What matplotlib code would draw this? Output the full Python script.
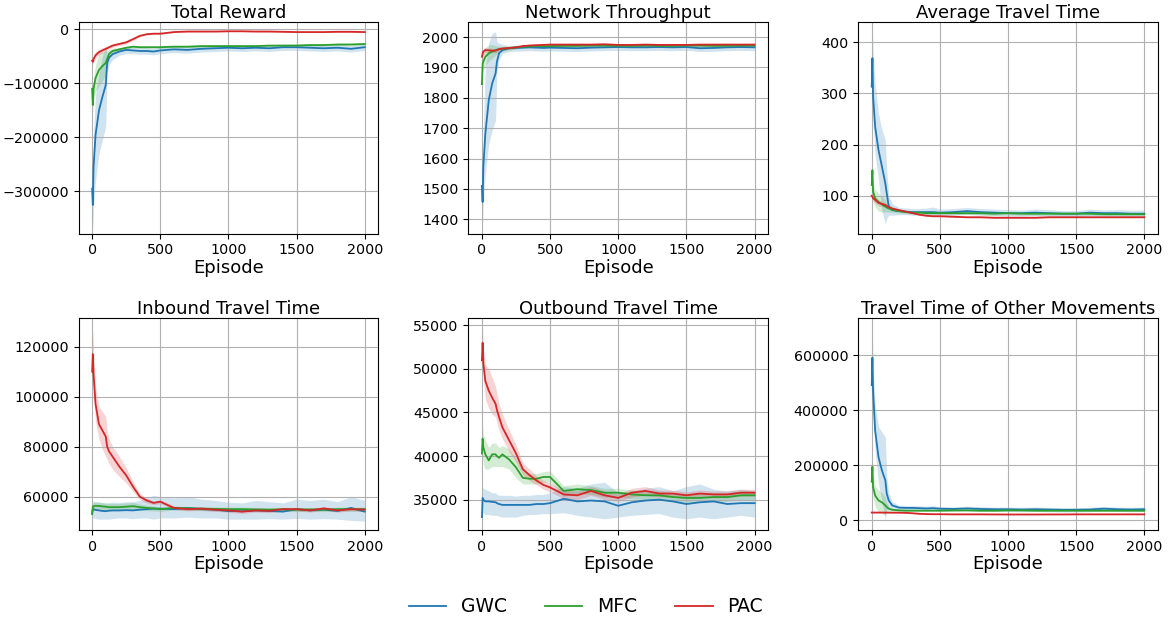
import numpy as np
import matplotlib.pyplot as plt

# episodios amostrados (eixo x de todos os paineis)
ep = [0, 5, 10, 25, 50, 75, 100, 110, 125, 150, 200, 250, 300, 350, 400, 450,
      500, 600, 700, 800, 900, 1000, 1100, 1200, 1300, 1400, 1500, 1600, 1700,
      1800, 1900, 2000]

metodos = ["GWC", "MFC", "PAC"]
cores = ["tab:blue", "tab:green", "tab:red"]

titulos = ["Total Reward", "Network Throughput", "Average Travel Time",
           "Inbound Travel Time", "Outbound Travel Time",
           "Travel Time of Other Movements"]

# ---------------- Total Reward ----------------
rew_gwc = [-295000, -325000, -255000, -195000, -150000, -125000, -103000, -62000, -52000, -46000, -41000, -38000, -39000, -40000, -40000, -41000, -39000, -37000, -38000, -36000, -35000, -34000, -35000, -34000, -35000, -33000, -33000, -34000, -35000, -34000, -36000, -33000]
rew_gwc_lo = [-340000, -370000, -330000, -280000, -230000, -205000, -180000, -80000, -65000, -56000, -48000, -45000, -45000, -46000, -46000, -47000, -45000, -43000, -44000, -42000, -41000, -40000, -41000, -40000, -41000, -39000, -39000, -40000, -41000, -40000, -42000, -39000]
rew_gwc_hi = [-270000, -280000, -190000, -120000, -80000, -50000, -30000, -45000, -40000, -37000, -34000, -32000, -33000, -34000, -34000, -35000, -33000, -31000, -32000, -30000, -29000, -28000, -29000, -28000, -29000, -27000, -27000, -28000, -29000, -28000, -30000, -27000]
rew_mfc = [-110000, -140000, -110000, -90000, -75000, -68000, -62000, -55000, -45000, -40000, -37000, -34000, -32000, -33000, -33000, -33000, -33000, -32000, -32000, -31000, -31000, -31000, -31000, -31000, -30000, -30000, -30000, -29000, -29000, -28000, -28000, -27000]
rew_mfc_lo = [-130000, -155000, -130000, -115000, -105000, -95000, -85000, -70000, -53000, -45000, -40000, -36000, -34000, -35000, -35000, -35000, -35000, -34000, -34000, -33000, -33000, -33000, -33000, -33000, -32000, -32000, -32000, -31000, -31000, -30000, -30000, -29000]
rew_mfc_hi = [-95000, -120000, -90000, -65000, -45000, -42000, -40000, -40000, -37000, -35000, -34000, -32000, -30000, -31000, -31000, -31000, -31000, -30000, -30000, -29000, -29000, -29000, -29000, -29000, -28000, -28000, -28000, -27000, -27000, -26000, -26000, -25000]
rew_pac = [-58000, -60000, -55000, -48000, -42000, -39000, -36000, -35000, -33000, -30000, -27000, -24000, -18000, -12000, -9000, -8000, -8000, -5000, -4000, -4000, -4000, -3500, -3500, -4000, -4000, -4500, -5000, -5000, -5000, -4500, -4500, -5000]
rew_pac_lo = [-63000, -65000, -61000, -54000, -47000, -44000, -40000, -39000, -36000, -33000, -30000, -27000, -20500, -14000, -10500, -9500, -9500, -6000, -5000, -5000, -5000, -4500, -4500, -5000, -5000, -5500, -6000, -6000, -6000, -5500, -5500, -6000]
rew_pac_hi = [-53000, -55000, -49000, -42000, -37000, -34000, -32000, -31000, -30000, -27000, -24000, -21000, -15500, -10000, -7500, -6500, -6500, -4000, -3000, -3000, -3000, -2500, -2500, -3000, -3000, -3500, -4000, -4000, -4000, -3500, -3500, -4000]

# ---------------- Network Throughput ----------------
thr_gwc = [1510, 1457, 1572, 1682, 1792, 1847, 1880, 1919, 1946, 1957, 1963, 1964, 1965, 1966, 1965, 1964, 1965, 1964, 1963, 1965, 1966, 1967, 1966, 1966, 1967, 1966, 1967, 1963, 1964, 1966, 1967, 1966]
thr_gwc_lo = [1440, 1380, 1450, 1550, 1650, 1693, 1726, 1880, 1925, 1945, 1952, 1953, 1954, 1955, 1954, 1953, 1954, 1953, 1952, 1954, 1955, 1956, 1955, 1955, 1956, 1955, 1956, 1952, 1953, 1955, 1956, 1955]
thr_gwc_hi = [1530, 1510, 1700, 1900, 1980, 2012, 2017, 1985, 1980, 1975, 1972, 1973, 1974, 1975, 1974, 1973, 1974, 1973, 1972, 1974, 1975, 1976, 1975, 1975, 1976, 1975, 1976, 1972, 1973, 1975, 1976, 1975]
thr_mfc = [1845, 1910, 1919, 1935, 1946, 1952, 1957, 1958, 1960, 1961, 1963, 1966, 1968, 1969, 1970, 1970, 1970, 1971, 1971, 1972, 1972, 1971, 1971, 1972, 1971, 1971, 1972, 1972, 1971, 1971, 1972, 1972]
thr_mfc_lo = [1815, 1880, 1890, 1905, 1920, 1930, 1940, 1945, 1950, 1953, 1957, 1961, 1963, 1964, 1965, 1965, 1965, 1966, 1966, 1967, 1967, 1966, 1966, 1967, 1966, 1966, 1967, 1967, 1966, 1966, 1967, 1967]
thr_mfc_hi = [1880, 1940, 1950, 1965, 1975, 1975, 1972, 1970, 1970, 1969, 1969, 1971, 1973, 1974, 1975, 1975, 1975, 1976, 1976, 1977, 1977, 1976, 1976, 1977, 1976, 1976, 1977, 1977, 1976, 1976, 1977, 1977]
thr_pac = [1935, 1945, 1952, 1957, 1956, 1955, 1955, 1957, 1960, 1962, 1964, 1966, 1970, 1972, 1973, 1974, 1975, 1975, 1975, 1975, 1976, 1974, 1974, 1975, 1974, 1974, 1974, 1975, 1975, 1975, 1975, 1975]
thr_pac_lo = [1925, 1935, 1942, 1948, 1948, 1948, 1948, 1950, 1954, 1956, 1959, 1961, 1966, 1968, 1969, 1970, 1971, 1971, 1971, 1971, 1972, 1970, 1970, 1971, 1970, 1970, 1970, 1971, 1971, 1971, 1971, 1971]
thr_pac_hi = [1945, 1955, 1962, 1966, 1964, 1962, 1962, 1964, 1966, 1968, 1969, 1971, 1974, 1976, 1977, 1978, 1979, 1979, 1979, 1979, 1980, 1978, 1978, 1979, 1978, 1978, 1978, 1979, 1979, 1979, 1979, 1979]

# ---------------- Average Travel Time ----------------
att_gwc = [313, 369, 294, 235, 189, 157, 124, 105, 79, 72, 70, 69, 68, 68, 68, 68, 67, 68, 70, 68, 67, 66, 66, 67, 66, 65, 65, 67, 66, 66, 65, 65]
att_gwc_lo = [300, 320, 240, 180, 130, 70, 45, 55, 62, 62, 63, 63, 62, 62, 62, 62, 61, 62, 64, 62, 61, 60, 60, 61, 60, 59, 59, 61, 60, 60, 59, 59]
att_gwc_hi = [330, 430, 380, 320, 260, 230, 208, 150, 100, 85, 77, 76, 75, 75, 76, 78, 74, 75, 77, 75, 74, 73, 72, 74, 73, 71, 71, 74, 72, 73, 72, 72]
att_mfc = [121, 150, 108, 95, 88, 83, 79, 77, 75, 73, 70, 68, 67, 67, 66, 66, 66, 66, 66, 66, 65, 66, 65, 65, 65, 65, 65, 65, 64, 64, 64, 64]
att_mfc_lo = [100, 120, 90, 78, 70, 68, 68, 68, 68, 68, 66, 65, 64, 64, 63, 63, 63, 63, 63, 63, 62, 63, 62, 62, 62, 62, 62, 62, 61, 61, 61, 61]
att_mfc_hi = [145, 160, 125, 112, 105, 100, 92, 88, 84, 79, 74, 71, 70, 70, 69, 69, 69, 69, 69, 69, 68, 69, 68, 68, 68, 68, 68, 68, 67, 67, 67, 67]
att_pac = [100, 98, 95, 92, 86, 84, 82, 80, 78, 75, 72, 69, 66, 63, 61, 60, 60, 59, 58, 58, 57, 57, 57, 57, 58, 58, 58, 58, 58, 58, 58, 58]
att_pac_lo = [95, 93, 89, 86, 80, 79, 78, 77, 75, 73, 70, 68, 65, 62, 60, 59, 59, 58, 57, 57, 56, 56, 56, 56, 57, 57, 57, 57, 57, 57, 57, 57]
att_pac_hi = [105, 103, 101, 98, 92, 89, 86, 83, 81, 77, 74, 70, 67, 64, 62, 61, 61, 60, 59, 59, 58, 58, 58, 58, 59, 59, 59, 59, 59, 59, 59, 59]

# ---------------- Inbound Travel Time ----------------
inb_gwc = [53500, 55000, 55000, 54700, 54500, 54300, 54200, 54300, 54400, 54500, 54500, 54600, 54500, 54800, 55000, 55200, 55200, 55000, 55500, 55000, 54800, 54200, 54200, 54500, 54300, 54000, 55000, 54500, 54800, 54300, 55500, 54000]
inb_gwc_lo = [51000, 51500, 51500, 51200, 51000, 51000, 51000, 51000, 51000, 51200, 51500, 51500, 51200, 51500, 51500, 51000, 51500, 51500, 51800, 51500, 51500, 51000, 51000, 51000, 51200, 51000, 51300, 51000, 51200, 51000, 50500, 50200]
inb_gwc_hi = [56000, 58000, 58200, 58000, 57800, 57600, 57500, 57500, 57700, 57800, 57700, 58000, 58000, 58500, 59500, 60500, 60000, 59500, 60000, 59000, 58500, 57800, 57500, 58500, 58000, 57500, 59000, 58500, 59000, 58000, 60000, 58500]
inb_mfc = [53000, 56000, 56200, 56300, 56300, 56100, 56000, 55900, 55800, 55800, 55800, 56000, 56200, 55800, 55500, 55300, 55000, 55500, 55300, 55200, 55100, 55000, 55000, 54900, 54800, 54900, 54800, 54900, 54800, 55000, 55000, 55000]
inb_mfc_lo = [51500, 54500, 54700, 54800, 54800, 54600, 54500, 54400, 54300, 54300, 54300, 54500, 54700, 54600, 54400, 54300, 54100, 54700, 54500, 54400, 54300, 54200, 54200, 54100, 54000, 54100, 54000, 54100, 54000, 54200, 54200, 54200]
inb_mfc_hi = [54500, 57500, 57700, 57800, 57800, 57600, 57500, 57400, 57300, 57300, 57300, 57500, 57700, 57000, 56600, 56300, 55900, 56300, 56100, 56000, 55900, 55800, 55800, 55700, 55600, 55700, 55600, 55700, 55600, 55800, 55800, 55800]
inb_pac = [110000, 117000, 109000, 97000, 89000, 86500, 84000, 80000, 78000, 76000, 72000, 68500, 64000, 60000, 58500, 57500, 58000, 55500, 55000, 55200, 54800, 54500, 54000, 54500, 54300, 55000, 55000, 54500, 55300, 54500, 55000, 54800]
inb_pac_lo = [106000, 110000, 102000, 90000, 83000, 79000, 76000, 75000, 73000, 71000, 68000, 65500, 62000, 58800, 57500, 56800, 57200, 54800, 54300, 54500, 54100, 53800, 53300, 53800, 53600, 54300, 54300, 53800, 54600, 53800, 54300, 54100]
inb_pac_hi = [120000, 127000, 118000, 104000, 96000, 94000, 92000, 86000, 83000, 80000, 76000, 71500, 66000, 61200, 59500, 58200, 58800, 56200, 55700, 55900, 55500, 55200, 54700, 55200, 55000, 55700, 55700, 55200, 56000, 55200, 55700, 55500]

# ---------------- Outbound Travel Time ----------------
outb_gwc = [33000, 35200, 35000, 34800, 34800, 34750, 34700, 34600, 34500, 34400, 34400, 34400, 34400, 34400, 34500, 34500, 34600, 35100, 34800, 34900, 34800, 34300, 34700, 34900, 35000, 34800, 34500, 34700, 34800, 34500, 34600, 34600]
outb_gwc_lo = [32500, 33500, 33500, 33300, 33300, 33200, 33200, 33200, 33100, 33000, 33000, 33000, 33200, 33300, 33300, 33400, 33400, 33500, 33200, 33000, 32800, 33000, 33200, 33300, 33400, 33000, 32800, 33000, 32800, 33000, 33200, 33000]
outb_gwc_hi = [34000, 36500, 36300, 36200, 36000, 35800, 35800, 35600, 35500, 35500, 35500, 35400, 35500, 35500, 35600, 35600, 35800, 36500, 36300, 36800, 37000, 35800, 36000, 36300, 36500, 36000, 36500, 36800, 36200, 36000, 36200, 36000]
outb_mfc = [40300, 42000, 41000, 40200, 39500, 40200, 40200, 40000, 39800, 40200, 39600, 38700, 37500, 37400, 37400, 37600, 37600, 36000, 36200, 36100, 35800, 35800, 35600, 35500, 35500, 35300, 35200, 35200, 35300, 35300, 35500, 35500]
outb_mfc_lo = [39000, 40000, 39000, 38500, 38500, 38800, 38800, 38800, 38800, 38800, 38500, 37500, 36800, 36800, 36800, 37000, 37000, 35400, 35700, 35600, 35300, 35300, 35100, 35000, 35000, 34800, 34700, 34700, 34800, 34800, 35000, 35000]
outb_mfc_hi = [41500, 43500, 42500, 41800, 41000, 41500, 41500, 41300, 41000, 41200, 40800, 39800, 38400, 38000, 38000, 38200, 38300, 36600, 36800, 36600, 36300, 36300, 36100, 36000, 36000, 35800, 35700, 35700, 35800, 35800, 36000, 36000]
outb_pac = [51000, 53000, 50700, 48600, 47500, 46700, 46000, 45300, 44500, 43300, 41800, 40300, 38500, 37800, 37200, 36700, 36400, 35600, 35500, 36000, 35500, 35200, 35800, 36000, 35700, 35700, 35500, 35700, 35600, 35600, 35800, 35800]
outb_pac_lo = [50000, 51500, 49000, 46500, 45500, 44800, 44500, 43800, 43000, 42000, 40500, 39300, 37800, 37200, 36700, 36200, 35900, 35100, 35000, 35500, 35000, 34800, 35300, 35500, 35300, 35300, 35100, 35300, 35200, 35200, 35400, 35400]
outb_pac_hi = [52500, 54500, 52500, 50500, 50000, 49000, 48000, 47200, 46000, 44800, 43000, 41300, 39200, 38500, 37700, 37200, 36900, 36100, 36000, 36500, 36000, 35600, 36300, 36500, 36100, 36100, 35900, 36100, 36000, 36000, 36200, 36200]

# ---------------- Travel Time of Other Movements ----------------
oth_gwc = [491000, 591000, 470000, 326000, 229000, 181000, 145000, 97000, 72000, 54000, 46000, 45000, 45000, 44000, 43000, 44000, 42000, 41000, 43000, 41000, 40000, 40000, 39000, 40000, 39000, 38000, 38000, 39000, 42000, 40000, 39000, 40000]
oth_gwc_lo = [470000, 480000, 400000, 250000, 130000, 70000, 0, 40000, 45000, 42000, 38000, 37000, 37000, 36000, 35000, 36000, 34000, 33000, 35000, 33000, 32000, 32000, 31000, 32000, 31000, 30000, 30000, 31000, 34000, 32000, 31000, 32000]
oth_gwc_hi = [520000, 700000, 560000, 420000, 340000, 320000, 302000, 160000, 100000, 68000, 54000, 53000, 53000, 52000, 51000, 53000, 50000, 49000, 51000, 49000, 48000, 48000, 47000, 48000, 47000, 46000, 46000, 47000, 51000, 48000, 47000, 48000]
oth_mfc = [140000, 195000, 120000, 90000, 72000, 65000, 54000, 48000, 42000, 38000, 36000, 35000, 35000, 35000, 35000, 35000, 35000, 36000, 36000, 35000, 35000, 36000, 36000, 35000, 35000, 35000, 35000, 35000, 35000, 35000, 35000, 35000]
oth_mfc_lo = [110000, 140000, 80000, 50000, 30000, 25000, 20000, 28000, 33000, 34000, 33000, 32000, 32000, 32000, 32000, 32000, 32000, 33000, 33000, 32000, 32000, 33000, 33000, 32000, 32000, 32000, 32000, 32000, 32000, 32000, 32000, 32000]
oth_mfc_hi = [170000, 210000, 160000, 125000, 110000, 100000, 85000, 65000, 50000, 43000, 39000, 38000, 38000, 38000, 38000, 38000, 38000, 39000, 39000, 38000, 38000, 39000, 39000, 38000, 38000, 38000, 38000, 38000, 38000, 38000, 38000, 38000]
oth_pac = [28000, 28000, 28000, 28000, 28000, 28000, 27800, 27800, 27700, 27600, 27500, 27000, 25500, 23500, 22500, 22000, 22000, 21500, 21500, 21500, 21200, 21000, 21000, 21000, 21200, 21200, 21500, 21500, 21500, 21500, 21500, 21500]
oth_pac_lo = [27000, 27000, 27000, 27000, 27000, 27000, 26800, 26800, 26700, 26600, 26500, 26000, 24500, 22500, 21500, 21000, 21000, 20500, 20500, 20500, 20200, 20000, 20000, 20000, 20200, 20200, 20500, 20500, 20500, 20500, 20500, 20500]
oth_pac_hi = [29000, 29000, 29000, 29000, 29000, 29000, 28800, 28800, 28700, 28600, 28500, 28000, 26500, 24500, 23500, 23000, 23000, 22500, 22500, 22500, 22200, 22000, 22000, 22000, 22200, 22200, 22500, 22500, 22500, 22500, 22500, 22500]

paineis = [
    [(rew_gwc, rew_gwc_lo, rew_gwc_hi), (rew_mfc, rew_mfc_lo, rew_mfc_hi), (rew_pac, rew_pac_lo, rew_pac_hi)],
    [(thr_gwc, thr_gwc_lo, thr_gwc_hi), (thr_mfc, thr_mfc_lo, thr_mfc_hi), (thr_pac, thr_pac_lo, thr_pac_hi)],
    [(att_gwc, att_gwc_lo, att_gwc_hi), (att_mfc, att_mfc_lo, att_mfc_hi), (att_pac, att_pac_lo, att_pac_hi)],
    [(inb_gwc, inb_gwc_lo, inb_gwc_hi), (inb_mfc, inb_mfc_lo, inb_mfc_hi), (inb_pac, inb_pac_lo, inb_pac_hi)],
    [(outb_gwc, outb_gwc_lo, outb_gwc_hi), (outb_mfc, outb_mfc_lo, outb_mfc_hi), (outb_pac, outb_pac_lo, outb_pac_hi)],
    [(oth_gwc, oth_gwc_lo, oth_gwc_hi), (oth_mfc, oth_mfc_lo, oth_mfc_hi), (oth_pac, oth_pac_lo, oth_pac_hi)],
]

limites_y = [(-378000, 14000), (1353, 2050), (26, 440),
             (46600, 131300), (31500, 55800), (-36000, 734000)]

fig, axs = plt.subplots(2, 3, figsize=(11.72, 6.23), dpi=100)
fig.subplots_adjust(left=0.067, right=0.988, top=0.965, bottom=0.149,
                    wspace=0.30, hspace=0.40)

for k, ax in enumerate(axs.flat):
    for (m, lo, hi), nome, cor in zip(paineis[k], metodos, cores):
        ax.fill_between(ep, lo, hi, color=cor, alpha=0.2, linewidth=0)
        ax.plot(ep, m, color=cor, linewidth=1.3, label=nome)
    ax.set_title(titulos[k], fontsize=13, pad=3)
    ax.set_xlabel("Episode", fontsize=13, labelpad=1)
    ax.set_ylim(limites_y[k])
    ax.set_xticks([0, 500, 1000, 1500, 2000])
    ax.tick_params(labelsize=10.3)
    ax.grid(True)
    ax.ticklabel_format(axis="y", style="plain", useOffset=False)

handles, labels = axs[0, 0].get_legend_handles_labels()
fig.legend(handles, labels, loc="center", bbox_to_anchor=(0.5, 0.026),
           ncol=3, frameon=False, fontsize=13.5)

plt.savefig("out.png", dpi=100)
